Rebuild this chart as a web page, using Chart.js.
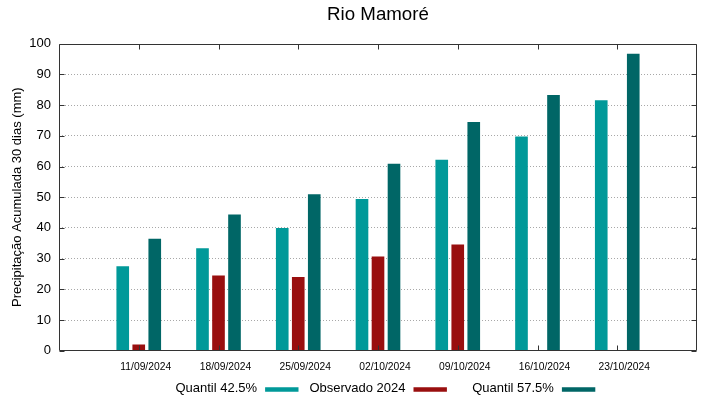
<!DOCTYPE html>
<html>
<head>
<meta charset="utf-8">
<script src="https://cdn.jsdelivr.net/npm/chart.js@4"></script>
<style>
html,body{margin:0;padding:0;background:#fff;}
#wrap{width:719px;height:399px;}
</style>
</head>
<body>
<div id="wrap"><canvas id="c" width="719" height="399"></canvas></div>
<script>
const chartTitle = 'Rio Mamoré';
const yAxisTitle = 'Precipitação Acumulada 30 dias (mm)';
const categories = ['11/09/2024','18/09/2024','25/09/2024','02/10/2024','09/10/2024','16/10/2024','23/10/2024'];
const seriesNames = ['Quantil 42.5%', 'Observado 2024', 'Quantil 57.5%'];
const q425 = [27.5, 33.4, 40.0, 49.4, 62.2, 69.8, 81.6];
const obs2024 = [2.0, 24.5, 24.0, 30.7, 34.6, null, null];
const q575 = [36.5, 44.4, 51.0, 60.9, 74.5, 83.3, 96.7];
const yTicks = [0, 10, 20, 30, 40, 50, 60, 70, 80, 90, 100];

const FONT = "'Liberation Sans', Arial, sans-serif";
const colors = ['#009999', '#990f0f', '#006666'];

// one empty slot on each side of the dates
const labels = [''].concat(categories, ['']);
const pad = arr => [null].concat(arr, [null]);

const framePlugin = {
  id: 'frame',
  afterDatasetsDraw(chart) {
    const {ctx, chartArea: a, scales: {x, y}} = chart;
    ctx.save();
    ctx.strokeStyle = '#333';
    ctx.lineWidth = 1;
    const L = Math.round(a.left) + 0.5, R = Math.round(a.right) - 0.5;
    const T = Math.round(a.top) + 0.5, B = Math.round(a.bottom) - 0.5;
    ctx.beginPath();
    ctx.rect(L, T, R - L, B - T);
    y.ticks.forEach((t, i) => {
      const py = Math.round(y.getPixelForTick(i)) + 0.5;
      ctx.moveTo(L, py); ctx.lineTo(L + 5, py);
      ctx.moveTo(R, py); ctx.lineTo(R - 5, py);
    });
    x.ticks.forEach((t, i) => {
      if (!labels[i]) return;
      const px = Math.round(x.getPixelForTick(i)) + 0.5;
      ctx.moveTo(px, T); ctx.lineTo(px, T + 5);
      ctx.moveTo(px, B); ctx.lineTo(px, B - 5);
    });
    ctx.stroke();
    ctx.restore();
  }
};

const legendPlugin = {
  id: 'keyLegend',
  afterDraw(chart) {
    const {ctx, chartArea: a} = chart;
    const colW = 148.4, swW = 33.4, swH = 4.5, gap = 8;
    const firstEnd = a.left + 239.5;
    const ty = 388.5, sy = 389.5;
    ctx.save();
    ctx.font = '13px ' + FONT;
    ctx.textBaseline = 'middle';
    ctx.textAlign = 'right';
    chart.data.datasets.forEach((ds, i) => {
      const end = firstEnd + i * colW;
      ctx.fillStyle = ds.backgroundColor;
      ctx.fillRect(end - swW, sy - swH / 2, swW, swH);
      ctx.fillStyle = '#000';
      ctx.fillText(ds.label, end - swW - gap, ty);
    });
    ctx.restore();
  }
};

new Chart(document.getElementById('c'), {
  type: 'bar',
  data: {
    labels: labels,
    datasets: [
      {label: seriesNames[0], data: pad(q425), backgroundColor: colors[0]},
      {label: seriesNames[1], data: pad(obs2024), backgroundColor: colors[1]},
      {label: seriesNames[2], data: pad(q575), backgroundColor: colors[2]}
    ]
  },
  options: {
    responsive: false,
    animation: false,
    devicePixelRatio: 1,
    categoryPercentage: 0.602,
    barPercentage: 0.79,
    layout: {padding: {left: 0, right: 22, top: 0, bottom: 0}},
    plugins: {
      legend: {display: false},
      tooltip: {enabled: false},
      title: {
        display: true,
        text: chartTitle,
        fullSize: false,
        color: '#000',
        font: {family: FONT, size: 18.7, weight: 'normal', lineHeight: 1.2},
        padding: {top: 4, bottom: 17.26}
      }
    },
    scales: {
      x: {
        offset: false,
        grid: {display: false, drawTicks: false},
        border: {display: false},
        ticks: {
          color: '#000',
          font: {family: FONT, size: 10.3},
          padding: 10.6,
          labelOffset: 7,
          maxRotation: 0,
          autoSkip: false
        },
        afterFit(s) { s.height = 48.3; }
      },
      y: {
        min: 0,
        max: 100,
        afterBuildTicks(s) { s.ticks = yTicks.map(v => ({value: v})); },
        grid: {
          drawTicks: false,
          lineWidth: 1,
          color: c => (c.tick && (c.tick.value === 0 || c.tick.value === 100)) ? 'rgba(0,0,0,0)' : '#a8a8a8'
        },
        border: {display: false, dash: [1, 2]},
        ticks: {
          color: '#000',
          font: {family: FONT, size: 13},
          padding: 8
        },
        title: {
          display: true,
          text: yAxisTitle,
          color: '#000',
          font: {family: FONT, size: 13},
          padding: {top: 9.5, bottom: 0}
        },
        afterFit(s) { s.width = 59; }
      }
    }
  },
  plugins: [framePlugin, legendPlugin]
});
</script>
</body>
</html>
